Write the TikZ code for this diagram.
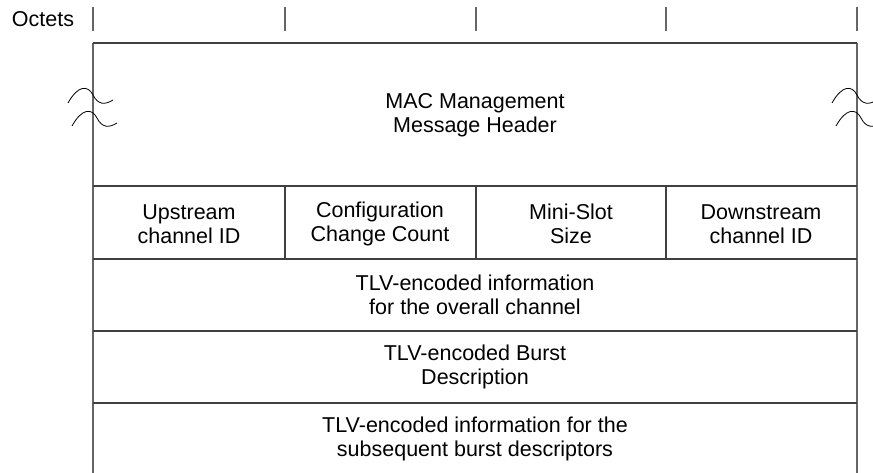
\documentclass[tikz,border=0pt]{standalone}
\usepackage{fontspec}
\setmainfont{Liberation Sans}
\begin{document}
\begin{tikzpicture}[x=1pt,y=-1pt,
  frame/.style={draw=black!75,line width=1.1pt},
  rule/.style={draw=black!60,line width=1.1pt},
  brk/.style={draw=black,line width=0.8pt},
  lbl/.style={align=center,font=\fontsize{21.5}{24}\selectfont,inner sep=0pt}]
\useasboundingbox (0,0) rectangle (873,473);
% coordinates
\coordinate (tl) at (93,43); \coordinate (tr) at (857,43);
\coordinate (bl) at (93,473); \coordinate (br) at (857,473);
% top ticks
\foreach \x/\n in {93/a,285/b,476/c,666/d,857/e}{
  \coordinate (t\n1) at (\x,7); \coordinate (t\n2) at (\x,31);
  \draw[rule] (t\n1) -- (t\n2);}
\node[lbl,anchor=center] (oct) at (43,19) {Octets};
% frame
\draw[rule] (tl) -- (bl);
\draw[rule] (tr) -- (br);
\draw[frame] (tl) -- (tr);
\foreach \y/\n in {186/r1,259/r2,331/r3,403/r4}{
  \coordinate (\n l) at (93,\y); \coordinate (\n r) at (857,\y);
  \draw[frame] (\n l) -- (\n r);}
\foreach \x/\n in {285/f1,476/f2,666/f3}{
  \coordinate (\n t) at (\x,186); \coordinate (\n b) at (\x,259);
  \draw[frame] (\n t) -- (\n b);}
% break marks
\foreach \cx in {93,857}{
  \foreach \cy/\dx in {97/0,120/4}{
    \draw[brk] (\cx-25+\dx,\cy+6) .. controls (\cx-15+\dx,\cy-12) and (\cx-5+\dx,\cy-12) .. (\cx+\dx,\cy-2)
      .. controls (\cx+5+\dx,\cy+8) and (\cx+12+\dx,\cy+8) .. (\cx+20+\dx,\cy+3);
  }}
% texts
\node[lbl] (hdr) at (475,115) {MAC Management\\Message Header};
\node[lbl] (up) at (189,224) {Upstream\\channel ID};
\node[lbl] (ccc) at (380,224) {Configuration\\Change Count};
\node[lbl] (ms) at (571,224) {Mini-Slot\\Size};
\node[lbl] (down) at (761,224) {Downstream\\channel ID};
\node[lbl] (tlv1) at (475,295) {TLV-encoded information\\for the overall channel};
\node[lbl] (tlv2) at (475,367) {TLV-encoded Burst\\Description};
\node[lbl] (tlv3) at (475,439) {TLV-encoded information for the\\subsequent burst descriptors};
\end{tikzpicture}
\end{document}
